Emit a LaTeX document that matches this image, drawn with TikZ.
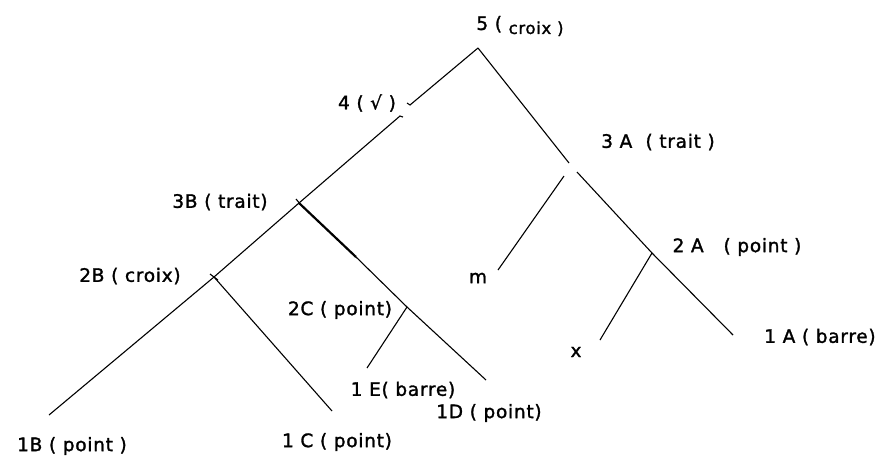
\documentclass[tikz,border=0pt]{standalone}
\usepackage{fontspec}
\newfontfamily\lblfont[LetterSpace=4,FakeBold=1.5]{DejaVu Sans}
\begin{document}
\begin{tikzpicture}[x=1pt,y=-1pt,
  lbl/.style={font=\lblfont\fontsize{18.5}{21}\selectfont, inner sep=0pt, text=black},
  branch/.style={draw=black, line width=1.1pt},
  heavy/.style={draw=black, line width=2.2pt}]
\useasboundingbox (0,0) rectangle (881,459);
% tree points
\coordinate (n5) at (478,48);
\coordinate (n4a) at (410,105);
\coordinate (n4b) at (400,116);
\coordinate (n3B) at (299,203);
\coordinate (n2B) at (214,277);
\coordinate (n1B) at (49,415);
\coordinate (n1C) at (332,411);
\coordinate (n2C) at (407,307);
\coordinate (n1D) at (486,380);
\coordinate (n1E) at (367,368);
\coordinate (hv) at (356,257);
\coordinate (n3Aa) at (569,163);
\coordinate (n3Ab) at (577,172);
\coordinate (n3Ac) at (564,176);
\coordinate (nm) at (498,270);
\coordinate (n2A) at (652,253);
\coordinate (n1A) at (733,335);
\coordinate (nx) at (600,340);
% branches
\draw[branch] (n5) -- (n4a) -- ++(-3,-2);
\draw[branch] (n4b) ++(3,1) -- (n4b) -- (n3B);
\draw[branch] (n3B) -- (n2B) -- (n1B);
\draw[branch] (n2B) ++(-4,-3) -- ++(8,6);
\draw[branch] (n3B) ++(-3,-4) -- ++(5,6);
\draw[branch] (n2B) -- (n1C);
\draw[heavy] (n3B) -- (hv);
\draw[branch] (hv) -- (n2C) -- (n1D);
\draw[branch] (n2C) -- (n1E);
\draw[branch] (n5) -- (n3Aa);
\draw[branch] (n3Ab) -- (n2A) -- (n1A);
\draw[branch] (n3Ac) -- (nm);
\draw[branch] (n2A) -- (nx);
% labels
\node[lbl] (l5) at (520,26) {5 ( \raisebox{-4pt}{\fontsize{16.5}{19}\selectfont croix )}};
\node[lbl] (l4) at (367,103) {4 ( √ )};
\node[lbl] (l3A) at (658,142) {3 A \ ( trait )};
\node[lbl] (l3B) at (220,202) {3B ( trait)};
\node[lbl] (l2B) at (130,276) {2B ( croix)};
\node[lbl] (l2A) at (737,247) {2 A \ \ ( point )};
\node[lbl] (lm) at (478,278) {m};
\node[lbl] (l2C) at (340,310) {2C ( point)};
\node[lbl] (lx) at (576,352) {x};
\node[lbl] (l1A) at (820,337) {1 A ( barre)};
\node[lbl] (l1E) at (403,390) {1 E( barre)};
\node[lbl] (l1D) at (489,413) {1D ( point)};
\node[lbl] (l1C) at (337,442) {1 C ( point)};
\node[lbl] (l1B) at (72,446) {1B ( point )};
\end{tikzpicture}
\end{document}
